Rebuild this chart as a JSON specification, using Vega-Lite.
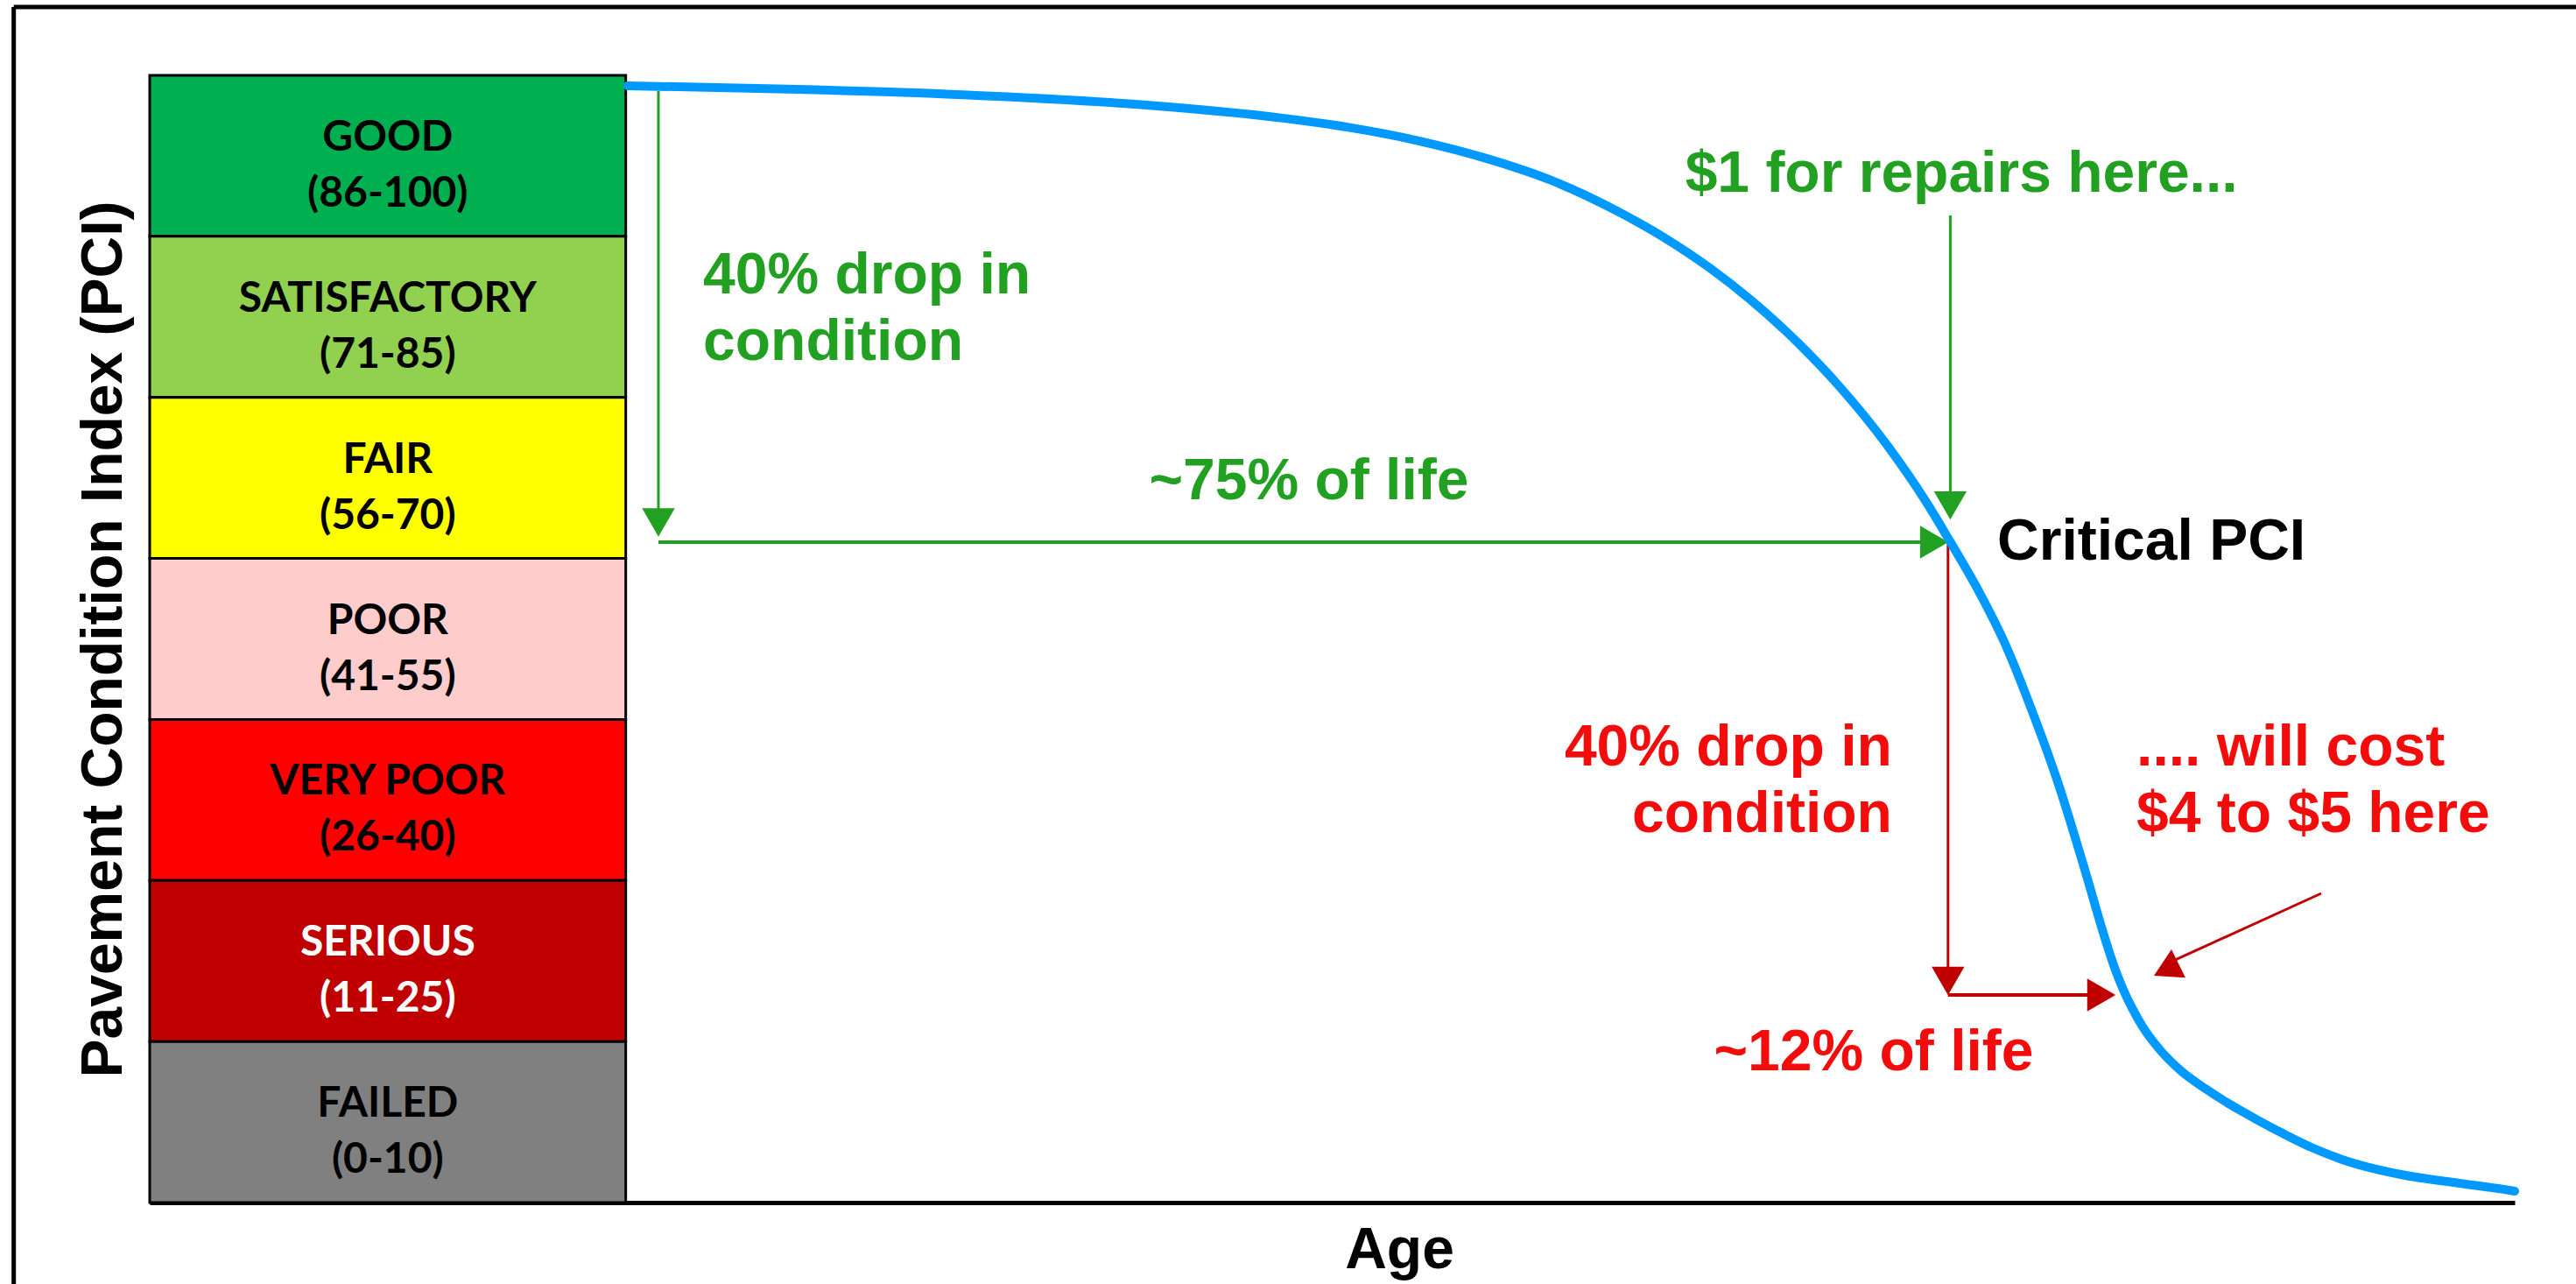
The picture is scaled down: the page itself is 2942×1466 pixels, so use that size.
{
  "$schema": "https://vega.github.io/schema/vega-lite/v6.json",
  "width": 2701,
  "height": 1287,
  "autosize": {"type": "none"},
  "padding": {"left": 171, "top": 86, "right": 70, "bottom": 93},
  "background": "white",
  "config": {
    "view": {"stroke": null},
    "axisX": {"labels": false, "ticks": false, "grid": false, "domainColor": "#000000", "domainWidth": 5, "titleFont": "Liberation Sans", "titleFontSize": 66, "titleFontWeight": "bold", "titleColor": "#000000", "titlePadding": 22, "titleX": 1427},
    "axisY": {"labels": false, "ticks": false, "grid": false, "domain": false, "titleFont": "Liberation Sans", "titleFontSize": 66, "titleFontWeight": "bold", "titleColor": "#000000", "titlePadding": 19}
  },
  "datasets": {
    "bands": [
      {"band": "GOOD", "label": "GOOD\n(86-100)", "lo": 6, "hi": 7},
      {"band": "SATISFACTORY", "label": "SATISFACTORY\n(71-85)", "lo": 5, "hi": 6},
      {"band": "FAIR", "label": "FAIR\n(56-70)", "lo": 4, "hi": 5},
      {"band": "POOR", "label": "POOR\n(41-55)", "lo": 3, "hi": 4},
      {"band": "VERY POOR", "label": "VERY POOR\n(26-40)", "lo": 2, "hi": 3},
      {"band": "SERIOUS", "label": "SERIOUS\n(11-25)", "lo": 1, "hi": 2},
      {"band": "FAILED", "label": "FAILED\n(0-10)", "lo": 0, "hi": 1}
    ],
    "curve": [
      {"age": 0.11, "pci": 6.935}, {"age": 8.59, "pci": 6.915}, {"age": 17.86, "pci": 6.879}, {"age": 27.13, "pci": 6.819},
      {"age": 34.78, "pci": 6.734}, {"age": 38.26, "pci": 6.677}, {"age": 41.87, "pci": 6.596}, {"age": 45.68, "pci": 6.48},
      {"age": 48.97, "pci": 6.349}, {"age": 52.63, "pci": 6.148}, {"age": 54.95, "pci": 5.994}, {"age": 57.36, "pci": 5.806},
      {"age": 59.58, "pci": 5.603}, {"age": 62.09, "pci": 5.335}, {"age": 64.22, "pci": 5.072}, {"age": 66.81, "pci": 4.698},
      {"age": 68.85, "pci": 4.35}, {"age": 70.1, "pci": 4.107}, {"age": 71.63, "pci": 3.796}, {"age": 73.02, "pci": 3.47},
      {"age": 74.42, "pci": 3.062}, {"age": 75.81, "pci": 2.611}, {"age": 77.2, "pci": 2.083}, {"age": 78.36, "pci": 1.621},
      {"age": 78.82, "pci": 1.458}, {"age": 79.28, "pci": 1.322}, {"age": 79.75, "pci": 1.207}, {"age": 80.3, "pci": 1.093},
      {"age": 81.0, "pci": 0.979}, {"age": 82.3, "pci": 0.821}, {"age": 83.69, "pci": 0.702}, {"age": 84.71, "pci": 0.625},
      {"age": 86.24, "pci": 0.522}, {"age": 87.81, "pci": 0.424}, {"age": 89.34, "pci": 0.337}, {"age": 90.87, "pci": 0.267},
      {"age": 93.98, "pci": 0.174}, {"age": 97.08, "pci": 0.12}, {"age": 99.4, "pci": 0.082}, {"age": 100.0, "pci": 0.071}
    ],
    "thinArrows": [
      {"age": 1.73, "pci": 6.902, "age_end": 1.73, "pci_end": 4.25, "tone": "green"},
      {"age": 70.12, "pci": 6.13, "age_end": 70.12, "pci_end": 4.36, "tone": "green"},
      {"age": 70.0, "pci": 4.085, "age_end": 70.0, "pci_end": 1.42, "tone": "darkred"},
      {"age": 89.76, "pci": 1.92, "age_end": 81.83, "pci_end": 1.496, "tone": "darkred"}
    ],
    "thickArrows": [
      {"age": 1.73, "pci": 4.101, "age_end": 69.0, "pci_end": 4.101, "tone": "green"},
      {"age": 70.0, "pci": 1.289, "age_end": 77.8, "pci_end": 1.289, "tone": "darkred"}
    ],
    "headsDown": [
      {"age": 1.73, "pci": 4.223, "tone": "green"},
      {"age": 70.12, "pci": 4.329, "tone": "green"},
      {"age": 70.0, "pci": 1.376, "tone": "darkred"}
    ],
    "headsRight": [
      {"age": 69.27, "pci": 4.101, "tone": "green"},
      {"age": 78.12, "pci": 1.289, "tone": "darkred"}
    ],
    "headsDiag": [
      {"age": 81.55, "pci": 1.447, "tone": "darkred"}
    ],
    "notesLeft": [
      {"text": "40% drop in\ncondition", "age": 4.1, "pci": 5.928, "tone": "green"},
      {"text": "Critical PCI", "age": 72.61, "pci": 4.275, "tone": "black"},
      {"text": ".... will cost\n$4 to $5 here", "age": 79.98, "pci": 2.997, "tone": "red"}
    ],
    "notesCenter": [
      {"text": "~75% of life", "age": 36.17, "pci": 4.65, "tone": "green"},
      {"text": "$1 for repairs here...", "age": 70.71, "pci": 6.559, "tone": "green"},
      {"text": "~12% of life", "age": 66.07, "pci": 1.104, "tone": "red"}
    ],
    "notesRight": [
      {"text": "40% drop in\ncondition", "age": 67.04, "pci": 2.997, "tone": "red"}
    ]
  },
  "layer": [
    {
      "data": {"name": "bands"},
      "mark": {"type": "rect", "stroke": "#000000", "strokeWidth": 3},
      "encoding": {
        "x": {"datum": -25.2, "type": "quantitative", "scale": {"domain": [-25.2, 100], "nice": false, "zero": false}},
        "x2": {"datum": 0},
        "y": {"field": "lo", "type": "quantitative", "scale": {"domain": [0, 7], "nice": false, "zero": false}, "title": "Pavement Condition Index (PCI)"},
        "y2": {"field": "hi"},
        "fill": {"field": "band", "type": "nominal", "legend": null,
          "scale": {"domain": ["GOOD", "SATISFACTORY", "FAIR", "POOR", "VERY POOR", "SERIOUS", "FAILED"],
                    "range": ["#00B050", "#92D050", "#FFFF00", "#FFCCCC", "#FF0000", "#C00000", "#808080"]}}
      }
    },
    {
      "data": {"name": "bands"},
      "mark": {"type": "text", "font": "Lato", "fontWeight": "bold", "fontSize": 48, "lineBreak": "\n", "lineHeight": 64, "baseline": "top", "align": "center", "dy": 48},
      "encoding": {
        "x": {"datum": -12.6, "type": "quantitative"},
        "y": {"field": "hi", "type": "quantitative", "title": "Pavement Condition Index (PCI)"},
        "text": {"field": "label"},
        "color": {"condition": {"test": "datum.band === 'SERIOUS'", "value": "#FFFFFF"}, "value": "#000000"}
      }
    },
    {
      "data": {"values": [{}]},
      "mark": {"type": "rule", "color": "#000000", "strokeWidth": 5, "clip": false},
      "encoding": {
        "x": {"datum": -32.4, "type": "quantitative"},
        "x2": {"datum": 104},
        "y": {"datum": 7.424, "type": "quantitative"}
      }
    },
    {
      "data": {"values": [{}]},
      "mark": {"type": "rule", "color": "#000000", "strokeWidth": 5, "clip": false},
      "encoding": {
        "x": {"datum": -32.4, "type": "quantitative"},
        "y": {"datum": 7.424, "type": "quantitative"},
        "y2": {"datum": -0.6}
      }
    },
    {
      "data": {"name": "thinArrows"},
      "mark": {"type": "rule", "strokeWidth": 3},
      "encoding": {
        "x": {"field": "age", "type": "quantitative", "title": "Age"},
        "x2": {"field": "age_end"},
        "y": {"field": "pci", "type": "quantitative", "title": "Pavement Condition Index (PCI)"},
        "y2": {"field": "pci_end"},
        "color": {"field": "tone", "type": "nominal", "legend": null,
          "scale": {"domain": ["green", "red", "darkred", "black"], "range": ["#22A022", "#F20C0C", "#C00000", "#000000"]}}
      }
    },
    {
      "data": {"name": "thickArrows"},
      "mark": {"type": "rule", "strokeWidth": 4},
      "encoding": {
        "x": {"field": "age", "type": "quantitative", "title": "Age"},
        "x2": {"field": "age_end"},
        "y": {"field": "pci", "type": "quantitative", "title": "Pavement Condition Index (PCI)"},
        "y2": {"field": "pci_end"},
        "color": {"field": "tone", "type": "nominal", "legend": null}
      }
    },
    {
      "data": {"name": "headsDown"},
      "mark": {"type": "point", "shape": "triangle-down", "filled": true, "opacity": 1, "size": 1400, "strokeWidth": 0},
      "encoding": {
        "x": {"field": "age", "type": "quantitative", "title": "Age"},
        "y": {"field": "pci", "type": "quantitative", "title": "Pavement Condition Index (PCI)"},
        "color": {"field": "tone", "type": "nominal", "legend": null}
      }
    },
    {
      "data": {"name": "headsRight"},
      "mark": {"type": "point", "shape": "triangle-right", "filled": true, "opacity": 1, "size": 1400, "strokeWidth": 0},
      "encoding": {
        "x": {"field": "age", "type": "quantitative", "title": "Age"},
        "y": {"field": "pci", "type": "quantitative", "title": "Pavement Condition Index (PCI)"},
        "color": {"field": "tone", "type": "nominal", "legend": null}
      }
    },
    {
      "data": {"name": "headsDiag"},
      "mark": {"type": "point", "shape": "triangle-right", "angle": 153.7, "filled": true, "opacity": 1, "size": 1300, "strokeWidth": 0},
      "encoding": {
        "x": {"field": "age", "type": "quantitative", "title": "Age"},
        "y": {"field": "pci", "type": "quantitative", "title": "Pavement Condition Index (PCI)"},
        "color": {"field": "tone", "type": "nominal", "legend": null}
      }
    },
    {
      "data": {"name": "curve"},
      "mark": {"type": "line", "color": "#0099FF", "strokeWidth": 10, "interpolate": "monotone", "strokeCap": "round"},
      "encoding": {
        "x": {"field": "age", "type": "quantitative", "title": "Age"},
        "y": {"field": "pci", "type": "quantitative", "title": "Pavement Condition Index (PCI)"}
      }
    },
    {
      "data": {"name": "notesLeft"},
      "mark": {"type": "text", "font": "Liberation Sans", "fontWeight": "bold", "fontSize": 66, "lineBreak": "\n", "lineHeight": 76, "baseline": "top", "align": "left"},
      "encoding": {
        "x": {"field": "age", "type": "quantitative", "title": "Age"},
        "y": {"field": "pci", "type": "quantitative", "title": "Pavement Condition Index (PCI)"},
        "text": {"field": "text"},
        "color": {"field": "tone", "type": "nominal", "legend": null}
      }
    },
    {
      "data": {"name": "notesCenter"},
      "mark": {"type": "text", "font": "Liberation Sans", "fontWeight": "bold", "fontSize": 66, "lineBreak": "\n", "lineHeight": 76, "baseline": "top", "align": "center"},
      "encoding": {
        "x": {"field": "age", "type": "quantitative", "title": "Age"},
        "y": {"field": "pci", "type": "quantitative", "title": "Pavement Condition Index (PCI)"},
        "text": {"field": "text"},
        "color": {"field": "tone", "type": "nominal", "legend": null}
      }
    },
    {
      "data": {"name": "notesRight"},
      "mark": {"type": "text", "font": "Liberation Sans", "fontWeight": "bold", "fontSize": 66, "lineBreak": "\n", "lineHeight": 76, "baseline": "top", "align": "right"},
      "encoding": {
        "x": {"field": "age", "type": "quantitative", "title": "Age"},
        "y": {"field": "pci", "type": "quantitative", "title": "Pavement Condition Index (PCI)"},
        "text": {"field": "text"},
        "color": {"field": "tone", "type": "nominal", "legend": null}
      }
    }
  ]
}
